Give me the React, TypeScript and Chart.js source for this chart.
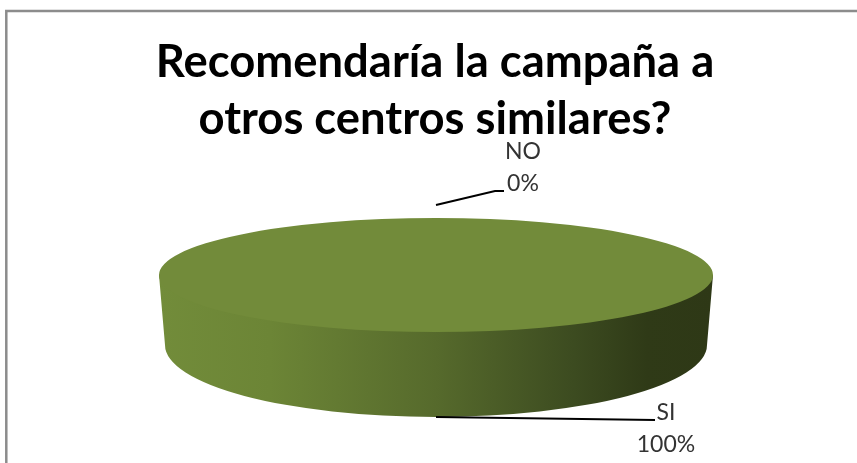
import React, { useEffect, useRef } from "react";
import { Chart, registerables } from "chart.js";

Chart.register(...registerables);

const categories = ["NO", "SI"];
const seriesValues = [0, 100];
const percentLabels = ["0%", "100%"];
const titleLines = ["Recomendaría la campaña a", "otros centros similares?"];

const FONT = "Lato, 'Open Sans', sans-serif";
const TOP = { cx: 436, cy: 275, rx: 277, ry: 57 };
const BASE = { cx: 436, cy: 345, rx: 271, ry: 72 };

const piePlugin = {
  id: "flatPie",
  beforeDraw(chart: any) {
    const { ctx, width, height } = chart;
    ctx.save();
    ctx.fillStyle = "#ffffff";
    ctx.fillRect(0, 0, width, height);
    ctx.strokeStyle = "#8c8c8c";
    ctx.lineWidth = 2.5;
    ctx.strokeRect(6.3, 11, 900, 500);
    ctx.restore();
  },
  beforeDatasetsDraw(chart: any) {
    const { ctx } = chart;
    const arc = chart.getDatasetMeta(0).data[1];
    ctx.save();
    const g = ctx.createLinearGradient(TOP.cx - TOP.rx, 0, TOP.cx + TOP.rx, 0);
    g.addColorStop(0, "#728c3a");
    g.addColorStop(0.2, "#6c8536");
    g.addColorStop(0.5, "#566a2c");
    g.addColorStop(0.75, "#3c4b20");
    g.addColorStop(0.88, "#2f3a17");
    g.addColorStop(1, "#2e3816");
    ctx.fillStyle = g;
    ctx.beginPath();
    ctx.moveTo(TOP.cx - TOP.rx, TOP.cy);
    ctx.lineTo(TOP.cx + TOP.rx, TOP.cy);
    ctx.lineTo(BASE.cx + BASE.rx, BASE.cy);
    ctx.ellipse(BASE.cx, BASE.cy, BASE.rx, BASE.ry, 0, 0, Math.PI, false);
    ctx.closePath();
    ctx.fill();
    const r = arc.outerRadius;
    ctx.translate(TOP.cx, TOP.cy);
    ctx.scale(TOP.rx / r, TOP.ry / r);
    ctx.translate(-arc.x, -arc.y);
  },
  afterDatasetsDraw(chart: any) {
    const { ctx } = chart;
    ctx.restore();
    const arcs = chart.getDatasetMeta(0).data;
    const layouts = [
      { dist: 70, ex: 495, ey: 191, end: 504, tx: 523, y1: 152, y2: 184 },
      { dist: 142, ex: 655, ey: 420, end: 655, tx: 666, y1: 413, y2: 445 },
    ];
    ctx.save();
    categories.forEach((name, i) => {
      const l = layouts[i];
      const a = arcs[i];
      const mid = (a.startAngle + a.endAngle) / 2;
      const startX = TOP.cx + Math.cos(mid) * l.dist;
      const startY = TOP.cy + Math.sin(mid) * l.dist;
      ctx.strokeStyle = "#000000";
      ctx.lineWidth = 2;
      ctx.beginPath();
      ctx.moveTo(startX, startY);
      ctx.lineTo(l.ex, l.ey);
      ctx.lineTo(l.end, l.ey);
      ctx.stroke();
      ctx.fillStyle = "#333333";
      ctx.font = `23px ${FONT}`;
      ctx.textAlign = "center";
      ctx.textBaseline = "middle";
      ctx.fillText(name, l.tx, l.y1);
      ctx.fillText(percentLabels[i], l.tx, l.y2);
    });
    ctx.restore();
  },
};

export default function App() {
  const ref = useRef<HTMLCanvasElement>(null);
  useEffect(() => {
    const chart = new Chart(ref.current as HTMLCanvasElement, {
      type: "pie",
      data: {
        labels: categories,
        datasets: [
          {
            data: seriesValues,
            backgroundColor: ["#4f81bd", "#728b3a"],
            borderWidth: 0,
            clip: false,
          } as any,
        ],
      },
      options: {
        animation: false,
        responsive: false,
        layout: { padding: { left: 13, right: 0, top: 33, bottom: 0 } },
        plugins: {
          legend: { display: false },
          tooltip: { enabled: false },
          title: {
            display: true,
            text: titleLines,
            color: "#000000",
            font: { family: FONT, size: 45.4, weight: "bold", lineHeight: 1.275 },
            padding: 0,
          },
        },
      },
      plugins: [piePlugin],
    });
    return () => chart.destroy();
  }, []);
  return (
    <canvas
      ref={ref}
      width={857}
      height={463}
      style={{ position: "fixed", left: 0, top: 0, display: "block" }}
    />
  );
}
